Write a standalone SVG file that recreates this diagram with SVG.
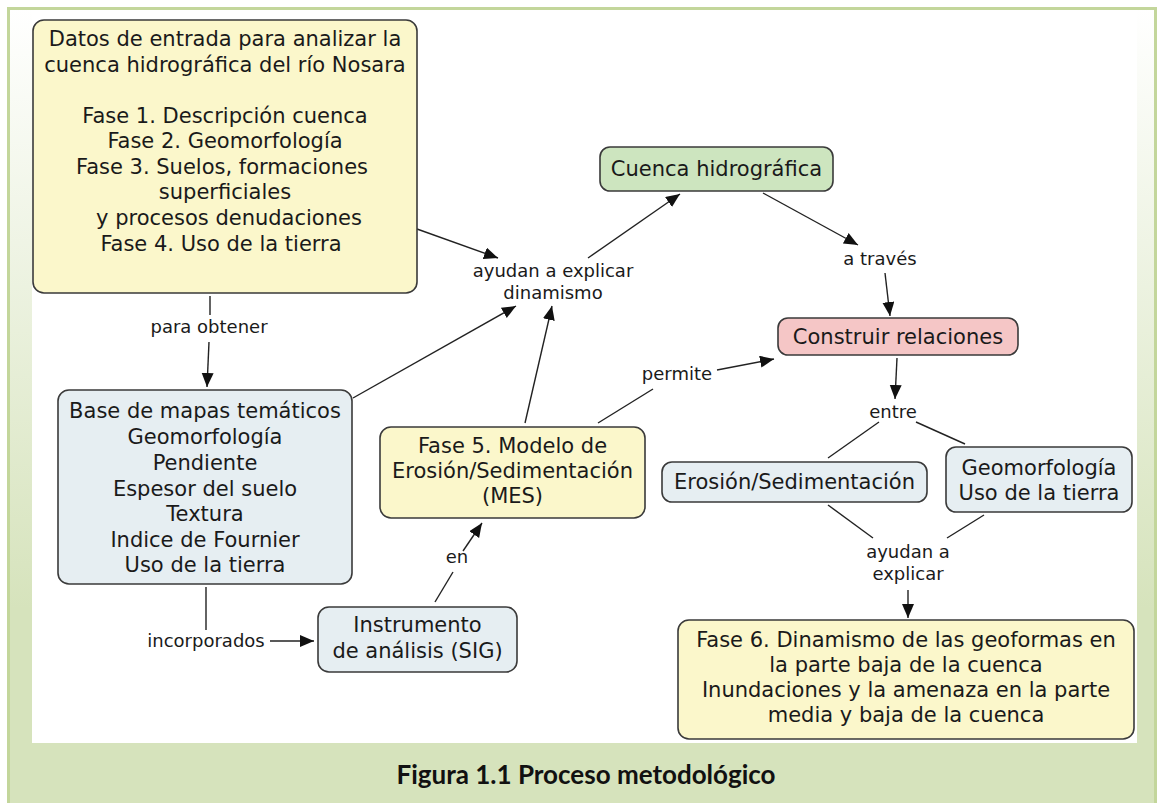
<svg xmlns="http://www.w3.org/2000/svg" width="1157" height="803" viewBox="0 0 1157 803">
<defs>
<linearGradient id="bg" x1="0" y1="0" x2="0" y2="1">
<stop offset="0" stop-color="#ffffff"/>
<stop offset="0.75" stop-color="#d6e3bc"/>
<stop offset="1" stop-color="#d6e3bc"/>
</linearGradient>
<marker id="ah" markerUnits="userSpaceOnUse" markerWidth="15" markerHeight="13" refX="14" refY="6" orient="auto">
<path d="M0,0 L14,6 L0,12 z" fill="#111"/>
</marker>
<style>
.box{stroke:#3a3a3a;stroke-width:1.6}
.y{fill:#fbf7cb}
.b{fill:#e6eef2}
.g{fill:#cde5bf}
.p{fill:#f5c6c6}
.t{font-family:"DejaVu Sans",Verdana,sans-serif;font-size:21px;fill:#1a1a1a;text-anchor:middle}
.l{font-family:"DejaVu Sans",Verdana,sans-serif;font-size:18px;fill:#1a1a1a;text-anchor:middle}
.c line{stroke:#222;stroke-width:1.4}
.a{marker-end:url(#ah)}
</style>
</defs>
<rect x="8.5" y="8.5" width="1147" height="800" fill="url(#bg)" stroke="#c3d69b" stroke-width="3"/>
<rect x="32" y="10" width="1105" height="733" fill="#ffffff"/>
<text x="586" y="784" font-family="Lato,'Liberation Sans',sans-serif" font-weight="bold" font-size="26" fill="#111" text-anchor="middle">Figura 1.1 Proceso metodológico</text>

<g class="c">
<line class="a" x1="417" y1="229" x2="498" y2="258"/>
<line class="a" x1="588" y1="258" x2="680" y2="194"/>
<line class="a" x1="763" y1="193" x2="858" y2="245"/>
<line class="a" x1="885" y1="273" x2="890" y2="316"/>
<line class="a" x1="897" y1="358" x2="895" y2="399"/>
<line x1="879" y1="422" x2="828" y2="458"/>
<line x1="916" y1="422" x2="965" y2="444"/>
<line x1="828" y1="505" x2="873" y2="538"/>
<line x1="984" y1="515" x2="947" y2="538"/>
<line class="a" x1="908" y1="590" x2="908" y2="618"/>
<line x1="210" y1="296" x2="210" y2="315"/>
<line class="a" x1="209" y1="342" x2="207" y2="387"/>
<line class="a" x1="353" y1="398" x2="516" y2="306"/>
<line class="a" x1="525" y1="423" x2="552" y2="306"/>
<line x1="598" y1="423" x2="653" y2="389"/>
<line class="a" x1="717" y1="370" x2="774" y2="359"/>
<line x1="206" y1="587" x2="206" y2="630"/>
<line class="a" x1="270" y1="641" x2="314" y2="641"/>
<line x1="435" y1="602" x2="453" y2="572"/>
<line class="a" x1="463" y1="551" x2="482" y2="523"/>
<text class="l" x="553" y="277">ayudan a explicar</text>
<text class="l" x="553" y="299">dinamismo</text>
<text class="l" x="880" y="265">a través</text>
<text class="l" x="893" y="418">entre</text>
<text class="l" x="908" y="558">ayudan a</text>
<text class="l" x="908" y="580">explicar</text>
<text class="l" x="209" y="333">para obtener</text>
<text class="l" x="677" y="380">permite</text>
<text class="l" x="206" y="647">incorporados</text>
<text class="l" x="457" y="563">en</text>
</g>

<g id="n-datos">
<rect class="box y" x="33" y="20" width="384" height="273" rx="11"/>
<text class="t" x="225" y="46">Datos de entrada para analizar la</text>
<text class="t" x="225" y="72">cuenca hidrográfica del río Nosara</text>
<text class="t" x="225" y="123">Fase 1. Descripción cuenca</text>
<text class="t" x="225" y="148">Fase 2. Geomorfología</text>
<text class="t" x="222" y="174">Fase 3. Suelos, formaciones</text>
<text class="t" x="225" y="199">superficiales</text>
<text class="t" x="229" y="225">y procesos denudaciones</text>
<text class="t" x="221" y="251">Fase 4. Uso de la tierra</text>
</g>

<g id="n-cuenca">
<rect class="box g" x="600" y="147" width="233" height="44" rx="10"/>
<text class="t" x="716.5" y="176">Cuenca hidrográfica</text>
</g>

<g id="n-construir">
<rect class="box p" x="778" y="318" width="240" height="37" rx="10"/>
<text class="t" x="898" y="344">Construir relaciones</text>
</g>

<g id="n-erosion">
<rect class="box b" x="662" y="462" width="265" height="40" rx="10"/>
<text class="t" x="794.5" y="489">Erosión/Sedimentación</text>
</g>

<g id="n-geomorf">
<rect class="box b" x="946" y="447" width="186" height="65" rx="10"/>
<text class="t" x="1039" y="475">Geomorfología</text>
<text class="t" x="1039" y="500">Uso de la tierra</text>
</g>

<g id="n-fase6">
<rect class="box y" x="678" y="620" width="456" height="119" rx="11"/>
<text class="t" x="906" y="647">Fase 6. Dinamismo de las geoformas en</text>
<text class="t" x="906" y="672">la parte baja de la cuenca</text>
<text class="t" x="906" y="697">Inundaciones y la amenaza en la parte</text>
<text class="t" x="906" y="722">media y baja de la cuenca</text>
</g>

<g id="n-base">
<rect class="box b" x="58" y="390" width="294" height="194" rx="11"/>
<text class="t" x="205" y="418">Base de mapas temáticos</text>
<text class="t" x="205" y="444">Geomorfología</text>
<text class="t" x="205" y="470">Pendiente</text>
<text class="t" x="205" y="496">Espesor del suelo</text>
<text class="t" x="205" y="521">Textura</text>
<text class="t" x="205" y="547">Indice de Fournier</text>
<text class="t" x="205" y="572">Uso de la tierra</text>
</g>

<g id="n-fase5">
<rect class="box y" x="380" y="427" width="265" height="91" rx="11"/>
<text class="t" x="512.5" y="453">Fase 5. Modelo de</text>
<text class="t" x="512.5" y="478">Erosión/Sedimentación</text>
<text class="t" x="512.5" y="503">(MES)</text>
</g>

<g id="n-sig">
<rect class="box b" x="318" y="607" width="199" height="65" rx="11"/>
<text class="t" x="417.5" y="632">Instrumento</text>
<text class="t" x="417.5" y="658">de análisis (SIG)</text>
</g>
</svg>
